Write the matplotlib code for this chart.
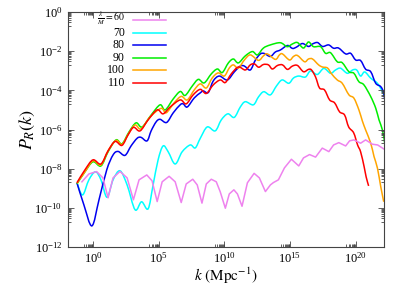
import numpy as np
import matplotlib
matplotlib.use('Agg')
import matplotlib.pyplot as plt
from matplotlib.path import Path
from matplotlib.patches import PathPatch
from matplotlib.ticker import FixedLocator, LogFormatterMathtext, NullFormatter

plt.rcParams['font.family'] = 'serif'
plt.rcParams['font.serif'] = ['Liberation Serif', 'DejaVu Serif']
plt.rcParams['mathtext.fontset'] = 'stix'
plt.rcParams['font.size'] = 8

# ==================== data (log10 k, log10 P) ====================
lgk_60 = [-0.84, -0.31, 0.28, 0.76, 1.15, 1.53, 2.06, 2.60, 3.08, 3.51, 4.10, 4.50, 4.89, 5.27,
          5.80, 6.26, 6.72, 7.10, 7.60, 7.94, 8.30, 8.63, 9.01, 9.39, 9.69, 10.08, 10.38, 10.73,
          11.00, 11.35, 11.76, 12.27, 12.67, 13.13, 13.51, 13.74, 14.12, 14.58, 15.11, 15.67,
          16.03, 16.49, 16.95, 17.46, 17.96, 18.32, 18.72, 19.24, 19.54, 19.87, 20.38, 20.76,
          21.27, 21.68, 22.16]
lgP_60 = [-8.67, -8.27, -8.15, -8.47, -9.49, -8.47, -8.14, -8.47, -9.59, -8.57, -8.32, -8.62,
          -9.68, -8.67, -8.39, -8.67, -9.73, -8.78, -8.54, -8.83, -9.76, -8.78, -8.54, -8.67,
          -9.18, -10.02, -9.29, -9.08, -9.29, -9.92, -8.72, -8.24, -8.47, -9.17, -8.83, -8.71,
          -8.57, -7.96, -7.52, -7.86, -7.45, -7.28, -7.41, -6.95, -7.13, -6.79, -6.67, -6.84,
          -6.58, -6.53, -6.70, -6.53, -6.75, -6.79, -7.00]

lgk_70 = [-1.22, -0.79, -0.31, 0.19, 0.61, 1.07, 1.53, 2.06, 2.60, 3.21, 3.70, 4.20, 4.58, 4.96,
          5.34, 5.73, 6.26, 6.79, 7.40, 7.79, 8.17, 8.70, 9.31, 9.77, 10.27, 10.76, 11.22, 11.60,
          12.21, 12.60, 13.00, 13.51, 13.97, 14.40, 14.91, 15.27, 15.67, 16.18, 16.56, 17.08,
          17.58, 18.09, 18.47, 18.85, 19.37, 19.77, 20.08, 20.38, 20.69, 21.15, 21.66, 22.04, 22.21]
lgP_70 = [-8.72, -9.34, -8.57, -8.16, -8.57, -9.46, -8.57, -8.11, -8.83, -10.10, -9.69, -10.05,
          -8.83, -7.55, -6.84, -7.14, -7.76, -7.14, -6.79, -6.94, -6.45, -5.87, -6.07, -5.51,
          -5.20, -5.38, -4.85, -4.58, -4.74, -4.34, -4.07, -4.23, -3.78, -3.47, -3.64, -3.37,
          -3.27, -3.32, -3.01, -3.19, -2.88, -3.13, -2.96, -2.87, -3.13, -2.96, -2.96, -3.27,
          -3.06, -3.38, -3.64, -4.07, -4.32]

lgk_80 = [-1.22, -0.69, -0.08, 0.46, 1.05, 1.53, 1.91, 2.44, 2.90, 3.36, 3.66, 4.12, 4.43, 4.81,
          5.11, 5.61, 6.11, 6.64, 6.87, 7.18, 7.71, 8.17, 8.40, 8.78, 9.16, 9.62, 10.23, 10.76,
          11.22, 11.53, 11.98, 12.37, 12.75, 13.05, 13.51, 13.89, 14.27, 14.81, 15.19, 15.50,
          15.95, 16.41, 16.72, 17.10, 17.48, 17.94, 18.32, 18.70, 19.24, 19.62, 20.00, 20.38,
          20.76, 21.15, 21.53, 21.91, 22.14, 22.25]
lgP_80 = [-8.72, -9.85, -10.92, -9.59, -8.06, -7.30, -7.12, -7.32, -6.84, -6.45, -6.40, -6.58,
          -6.07, -5.61, -5.48, -5.64, -5.15, -4.74, -4.69, -4.85, -4.39, -4.13, -4.03, -4.11,
          -3.52, -3.27, -3.47, -3.06, -2.76, -2.76, -2.96, -2.45, -2.14, -2.12, -2.27, -2.04,
          -1.94, -1.71, -1.86, -1.79, -1.61, -1.76, -1.63, -1.56, -1.76, -1.68, -1.85, -1.84,
          -2.14, -2.11, -2.45, -2.48, -2.92, -3.05, -3.64, -3.81, -4.13, -4.74]

lgk_90 = [-1.22, -0.61, 0.00, 0.61, 1.15, 1.76, 2.21, 2.75, 3.28, 3.74, 4.43, 5.11, 5.50, 6.11,
          6.64, 7.02, 7.56, 8.02, 8.47, 9.01, 9.47, 9.85, 10.31, 10.69, 11.07, 11.60, 12.14,
          12.52, 12.98, 13.51, 14.27, 14.79, 15.19, 15.57, 16.03, 16.41, 16.79, 17.33, 17.71,
          18.09, 18.60, 18.98, 19.49, 19.87, 20.25, 20.63, 21.15, 21.53, 21.78, 22.04, 22.21]
lgP_90 = [-8.78, -8.16, -7.65, -7.86, -7.14, -6.53, -6.73, -6.12, -5.66, -5.87, -5.26, -4.74,
          -5.00, -4.44, -4.06, -4.26, -3.78, -3.44, -3.62, -3.16, -2.91, -3.09, -2.60, -2.40,
          -2.60, -2.24, -2.02, -2.19, -1.84, -1.68, -1.57, -1.77, -1.63, -1.56, -1.84, -1.53,
          -1.77, -1.77, -2.11, -2.08, -2.54, -2.59, -3.05, -3.13, -3.56, -3.72, -4.32, -4.91,
          -5.51, -6.02, -6.68]

lgk_100 = [-1.22, -0.61, 0.00, 0.61, 1.15, 1.76, 2.21, 2.75, 3.21, 3.66, 4.35, 5.19, 5.57, 6.18,
           6.72, 7.18, 7.71, 8.17, 8.63, 9.08, 9.54, 10.00, 10.38, 10.69, 11.07, 11.53, 11.98,
           12.60, 12.98, 13.28, 13.89, 14.20, 14.43, 14.96, 15.27, 15.57, 16.11, 16.41, 16.72,
           17.18, 17.48, 17.86, 18.17, 18.60, 18.98, 19.49, 19.87, 20.25, 20.51, 20.76, 21.15,
           21.40, 21.66, 21.91, 22.14]
lgP_100 = [-8.75, -8.16, -7.60, -7.81, -7.09, -6.56, -6.76, -6.17, -5.77, -5.97, -5.36, -4.92,
           -5.15, -4.64, -4.31, -4.49, -3.98, -3.67, -3.88, -3.37, -3.11, -3.27, -2.86, -2.70,
           -2.86, -2.45, -2.19, -2.47, -2.24, -2.14, -2.42, -2.19, -2.14, -2.45, -2.27, -2.22,
           -2.54, -2.40, -2.40, -2.70, -2.81, -2.86, -3.16, -3.47, -3.64, -4.23, -4.40, -5.00,
           -5.56, -6.02, -6.70, -7.38, -7.97, -8.91, -9.69]

lgk_110 = [-1.22, -0.61, 0.00, 0.61, 1.15, 1.68, 2.21, 2.67, 3.09, 3.59, 4.20, 4.89, 5.34, 5.88,
           6.64, 7.10, 7.63, 8.17, 8.63, 9.16, 9.69, 10.08, 10.53, 11.07, 11.60, 11.98, 12.29,
           12.62, 12.98, 13.36, 13.66, 14.05, 14.43, 14.81, 15.19, 15.57, 16.03, 16.41, 16.64,
           16.95, 17.25, 17.63, 18.02, 18.40, 18.78, 19.16, 19.47, 19.85, 20.15, 20.38, 20.65,
           20.80, 20.99]
lgP_110 = [-8.72, -8.06, -7.55, -7.76, -7.09, -6.61, -6.81, -6.28, -5.89, -6.07, -5.51, -5.00,
           -5.20, -4.85, -4.49, -4.69, -4.23, -3.95, -4.16, -3.72, -3.47, -3.60, -3.16, -2.81,
           -2.96, -2.70, -2.65, -2.82, -2.68, -2.70, -2.91, -2.73, -2.70, -2.93, -2.76, -2.73,
           -3.05, -2.93, -2.96, -3.32, -3.88, -3.98, -4.49, -4.64, -5.10, -5.26, -5.87, -6.17,
           -6.79, -7.14, -7.91, -8.42, -8.88]

labels = [r'$\frac{\lambda}{M}=60$', '70', '80', '90', '100', '110']
colors = ['violet', 'cyan', '#0000f0', '#00ee00', 'orange', 'red']
smooth = [False, True, True, True, True, True]

series = [(lgk_60, lgP_60), (lgk_70, lgP_70), (lgk_80, lgP_80),
          (lgk_90, lgP_90), (lgk_100, lgP_100), (lgk_110, lgP_110)]


def smooth_path(lk, lp):
    """Catmull-Rom style Bezier path through the read points (in log space)."""
    x = np.asarray(lk, float)
    y = np.asarray(lp, float)
    n = len(x)
    verts = [(x[0], y[0])]
    codes = [Path.MOVETO]
    for i in range(n - 1):
        xa, ya = (x[i - 1], y[i - 1]) if i > 0 else (x[i], y[i])
        xb, yb = (x[i + 2], y[i + 2]) if i + 2 < n else (x[i + 1], y[i + 1])
        c1 = (x[i] + (x[i + 1] - xa) / 6, y[i] + (y[i + 1] - ya) / 6)
        c2 = (x[i + 1] - (xb - x[i]) / 6, y[i + 1] - (yb - y[i]) / 6)
        verts += [c1, c2, (x[i + 1], y[i + 1])]
        codes += [Path.CURVE4] * 3
    return Path(10 ** np.array(verts), codes)


fig = plt.figure(figsize=(4.07, 2.85), dpi=100)
ax = fig.add_axes([68 / 407, 1 - 247 / 285, 316 / 407, 235 / 285])
ax.set_xscale('log')
ax.set_yscale('log')
ax.set_xlim(10 ** -1.9, 10 ** 22.16)
ax.set_ylim(1e-12, 1)

for (lk, lp), col, sm in zip(series, colors, smooth):
    if sm:
        ax.add_patch(PathPatch(smooth_path(lk, lp), fill=False, edgecolor=col, lw=1.1))
    else:
        ax.plot(10 ** np.array(lk), 10 ** np.array(lp), color=col, lw=1.1)

# gnuplot-style ticks: majors every 5 (x) / 2 (y) decades, minor cluster below each major
xmaj = [10.0 ** e for e in range(0, 25, 5)]
ymaj = [10.0 ** e for e in range(-12, 1, 2)]
xmin = [m * 10.0 ** (e - 1) for e in range(0, 25, 5) for m in range(2, 10)]
ymin = [m * 10.0 ** (e - 1) for e in range(-12, 1, 2) for m in range(2, 10)]
ax.xaxis.set_major_locator(FixedLocator(xmaj))
ax.yaxis.set_major_locator(FixedLocator(ymaj))
ax.xaxis.set_minor_locator(FixedLocator(xmin))
ax.yaxis.set_minor_locator(FixedLocator(ymin))
ax.xaxis.set_major_formatter(LogFormatterMathtext())
ax.yaxis.set_major_formatter(LogFormatterMathtext())
ax.xaxis.set_minor_formatter(NullFormatter())
ax.yaxis.set_minor_formatter(NullFormatter())
ax.tick_params(which='both', direction='in', top=True, right=True, width=0.6, colors='#444444',
               labelcolor='black', labelsize=9)
ax.tick_params(which='major', length=4, pad=4)
ax.tick_params(which='minor', length=2)
ax.tick_params(axis='x', which='major', pad=3)
for sp in ax.spines.values():
    sp.set_linewidth(0.8)
    sp.set_color('#444444')

ax.set_xlabel(r'$k\ (\mathrm{Mpc}^{-1})$', fontsize=11, labelpad=0)
ax.set_ylabel(r'$P_R(k)$', fontsize=13, labelpad=-2)

# gnuplot-like key: right-aligned text followed by the line sample
row0, dy = 0.966, 0.0535
for i, (lab, col) in enumerate(zip(labels, colors)):
    yk = row0 - i * dy
    ax.text(0.180, yk + (0.006 if i == 0 else 0.0), lab, transform=ax.transAxes,
            ha='right', va='center', fontsize=7 if i == 0 else 8.5)
    ax.plot([0.206, 0.310], [yk, yk], transform=ax.transAxes, color=col, lw=1.1)

fig.savefig('out.png', dpi=100)
